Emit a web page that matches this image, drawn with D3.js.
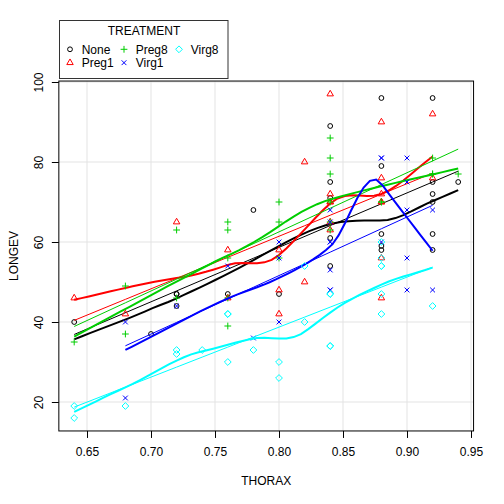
<!DOCTYPE html>
<html>
<head>
<meta charset="utf-8">
<script src="https://cdn.jsdelivr.net/npm/d3@7"></script>
<style>
html,body{margin:0;padding:0;background:#fff;}
svg text{font-family:"Liberation Sans",Arial,Helvetica,sans-serif;font-size:12px;fill:#000;}
</style>
</head>
<body>
<svg id="chart" width="504" height="504"></svg>
<script>
// ---- data ----
const groups = ["None", "Preg1", "Preg8", "Virg1", "Virg8"];
const colors = ["#000000", "#FF0000", "#00CD00", "#0000FF", "#00FFFF"];
const shapes = ["circle", "triangle", "plus", "cross", "diamond"];

const noneThorax  = [0.64,0.70,0.72,0.72,0.72,0.76,0.78,0.80,0.84,0.84,0.84,0.84,0.84,0.88,0.88,0.88,0.88,0.88,0.92,0.92,0.92,0.92,0.92,0.92,0.94];
const noneLongev  = [40,37,44,47,47,47,68,47,54,61,71,75,89,58,59,62,79,96,58,62,70,72,75,96,75];

const preg1Thorax = [0.64,0.68,0.72,0.76,0.76,0.80,0.80,0.80,0.82,0.82,0.84,0.84,0.84,0.84,0.84,0.84,0.88,0.88,0.88,0.88,0.88,0.88,0.88,0.92,0.92];
const preg1Longev = [46,42,65,46,58,42,48,58,50,80,63,65,70,70,72,97,46,56,70,70,72,76,90,76,92];

const preg8Thorax = [0.64,0.68,0.68,0.72,0.72,0.76,0.76,0.76,0.76,0.76,0.80,0.80,0.80,0.84,0.84,0.84,0.84,0.84,0.84,0.88,0.88,0.92,0.92,0.92,0.94];
const preg8Longev = [35,37,49,46,63,39,46,56,63,65,56,65,70,63,65,70,77,81,86,70,70,77,77,81,77];

const virg1Thorax = [0.68,0.68,0.72,0.76,0.78,0.80,0.80,0.80,0.84,0.84,0.84,0.84,0.84,0.84,0.84,0.88,0.88,0.88,0.90,0.90,0.90,0.90,0.90,0.92,0.92];
const virg1Longev = [21,40,44,54,36,40,56,60,48,48,53,60,60,65,68,60,81,81,48,56,68,75,81,48,68];

const virg8Thorax = [0.64,0.64,0.68,0.72,0.72,0.74,0.76,0.76,0.76,0.78,0.80,0.80,0.82,0.82,0.84,0.84,0.84,0.84,0.88,0.88,0.88,0.88,0.88,0.88,0.92];
const virg8Longev = [16,19,19,32,33,33,30,42,42,33,26,30,40,54,34,34,47,47,42,47,54,54,56,60,44];

const xTicks = [0.65, 0.70, 0.75, 0.80, 0.85, 0.90, 0.95];
const yTicks = [20, 40, 60, 80, 100];
const xLabel = "THORAX";
const yLabel = "LONGEV";
const legendTitle = "TREATMENT";

const thoraxByGroup = [noneThorax, preg1Thorax, preg8Thorax, virg1Thorax, virg8Thorax];
const longevByGroup = [noneLongev, preg1Longev, preg8Longev, virg1Longev, virg8Longev];

// ---- scales ----
const allX = thoraxByGroup.flat(), allY = longevByGroup.flat();
const [x0, x1] = d3.extent(allX), [y0, y1] = d3.extent(allY);
const dx = (x1 - x0) * 0.04, dy = (y1 - y0) * 0.04;
const x = d3.scaleLinear().domain([x0 - dx, x1 + dx]).range([58.84, 473.56]);
const y = d3.scaleLinear().domain([y0 - dy, y1 + dy]).range([430.96, 81.04]);

const svg = d3.select("#chart");
svg.append("rect").attr("width", 504).attr("height", 504).attr("fill", "#fff");

const [L, R] = x.range(), [B, T] = y.range();

// grid
const grid = svg.append("g").attr("stroke", "#e3e3e3").attr("stroke-width", 1);
xTicks.forEach(t => grid.append("line").attr("x1", x(t)).attr("x2", x(t)).attr("y1", T).attr("y2", B));
yTicks.forEach(t => grid.append("line").attr("y1", y(t)).attr("y2", y(t)).attr("x1", L).attr("x2", R));

// axes
const xAxis = d3.axisBottom(x).tickValues(xTicks).tickFormat(d3.format(".2f")).tickSizeOuter(0).tickSize(7).tickPadding(5);
const gx = svg.append("g").attr("transform", `translate(0,${B})`).call(xAxis);
gx.select(".domain").remove();
gx.selectAll("text").attr("font-size", 12).attr("font-family", "Liberation Sans, Arial, sans-serif").attr("dy", null).attr("y", 25);

const yAxis = d3.axisLeft(y).tickValues(yTicks).tickSize(7).tickSizeOuter(0);
const gy = svg.append("g").attr("transform", `translate(${L},0)`).call(yAxis);
gy.select(".domain").remove();
gy.selectAll(".tick text").attr("font-size", 12).attr("font-family", "Liberation Sans, Arial, sans-serif")
  .attr("x", null).attr("dy", null).attr("text-anchor", "middle")
  .attr("transform", "translate(-16,0) rotate(-90)");

// box
svg.append("rect").attr("x", L).attr("y", T).attr("width", R - L).attr("height", B - T)
  .attr("fill", "none").attr("stroke", "#000").attr("stroke-width", 1);

// labels
svg.append("text").attr("x", (L + R) / 2).attr("y", 485).attr("text-anchor", "middle").text(xLabel);
svg.append("text").attr("transform", `translate(18,${(T + B) / 2}) rotate(-90)`).attr("text-anchor", "middle").text(yLabel);

// ---- symbols ----
const RAD = 2.4;
function symbol(g, shape, cx, cy, col) {
  if (shape === "circle") {
    g.append("circle").attr("cx", cx).attr("cy", cy).attr("r", RAD).attr("fill", "none").attr("stroke", col);
  } else if (shape === "triangle") {
    const r = 1.555 * RAD, yc = 0.5 * r, xc = 0.866 * r;
    g.append("path").attr("d", `M${cx},${cy - r}L${cx + xc},${cy + yc}L${cx - xc},${cy + yc}Z`).attr("fill", "none").attr("stroke", col);
  } else if (shape === "plus") {
    const s = Math.SQRT2 * RAD;
    g.append("path").attr("d", `M${cx - s},${cy}H${cx + s}M${cx},${cy - s}V${cy + s}`).attr("stroke", col).attr("fill", "none");
  } else if (shape === "cross") {
    const s = RAD;
    g.append("path").attr("d", `M${cx - s},${cy - s}L${cx + s},${cy + s}M${cx - s},${cy + s}L${cx + s},${cy - s}`).attr("stroke", col).attr("fill", "none");
  } else if (shape === "diamond") {
    const s = Math.SQRT2 * RAD;
    g.append("path").attr("d", `M${cx},${cy - s}L${cx + s},${cy}L${cx},${cy + s}L${cx - s},${cy}Z`).attr("stroke", col).attr("fill", "none");
  }
}

// ---- statistics ----
function linReg(xs, ys) {
  const mx = d3.mean(xs), my = d3.mean(ys);
  let sxy = 0, sxx = 0;
  xs.forEach((v, i) => { sxy += (v - mx) * (ys[i] - my); sxx += (v - mx) * (v - mx); });
  const b = sxy / sxx;
  return v => my + b * (v - mx);
}

// loess (degree 1, symmetric family) with k-d tree vertices + cubic Hermite interpolation
function loess(xs, ys, span, iterations, evalXs, cell = 0.2) {
  const n = xs.length, q = Math.floor(n * span);
  // k-d tree vertices (1-D)
  const S = xs.slice().sort((a, b) => a - b);
  const X = i => S[i - 1];
  const mn = S[0], mxv = S[n - 1];
  const mu = 0.005 * Math.max(mxv - mn, 1e-10 * Math.max(Math.abs(mn), Math.abs(mxv)) + 1e-30);
  const vlo = mn - mu, vhi = mxv + mu;
  const fd = cell * (vhi - vlo);
  const fc = Math.floor(n * span * cell);
  const verts = new Set([vlo, vhi]);
  (function split(l, u, a, b) {
    if (u - l + 1 <= fc || (b - a) <= fd) return;
    let m = Math.floor((l + u) / 2), off = 0;
    while (m + off < u && m + off >= l) {
      if (X(m + off) === X(m + off + 1)) { off = -off; if (off >= 0) off++; }
      else { m = m + off; break; }
    }
    const xi = X(m);
    if (xi === a || xi === b) return;
    verts.add(xi);
    split(l, m, a, xi);
    split(m + 1, u, xi, b);
  })(1, n, vlo, vhi);
  const V = Array.from(verts).sort((a, b) => a - b);

  const localFit = (x0, rw) => {
    const d = xs.map(v => Math.abs(v - x0));
    const h = d.slice().sort((a, b) => a - b)[q - 1];
    let sw = 0, swx = 0, swy = 0, swxx = 0, swxy = 0;
    for (let i = 0; i < n; i++) {
      const u = d[i] / h;
      let w = u < 1 ? Math.pow(1 - u * u * u, 3) : 0;
      w *= rw[i];
      sw += w; swx += w * xs[i]; swy += w * ys[i]; swxx += w * xs[i] * xs[i]; swxy += w * xs[i] * ys[i];
    }
    const mx = swx / sw, my = swy / sw;
    const vxx = swxx - sw * mx * mx;
    if (Math.abs(vxx) < 1e-12) return [my, 0];
    const b = (swxy - sw * mx * my) / vxx;
    return [my + b * (x0 - mx), b];
  };
  const surface = rw => {
    const vf = V.map(v => localFit(v, rw));
    return xv => {
      let j = 0;
      while (j < V.length - 2 && xv > V[j + 1]) j++;
      const h = V[j + 1] - V[j], u = (xv - V[j]) / h;
      const p0 = (1 - u) * (1 - u) * (1 + 2 * u), p1 = u * u * (3 - 2 * u);
      const s0 = u * (1 - u) * (1 - u), s1 = -u * u * (1 - u);
      return p0 * vf[j][0] + p1 * vf[j + 1][0] + (s0 * vf[j][1] + s1 * vf[j + 1][1]) * h;
    };
  };
  let rob = new Array(n).fill(1);
  for (let it = 0; it < iterations - 1; it++) {
    const f = surface(rob);
    const res = ys.map((v, i) => v - f(xs[i]));
    const cmad = 6 * d3.median(res.map(Math.abs));
    rob = res.map(r => {
      const a = Math.abs(r);
      if (a <= 0.001 * cmad) return 1;
      if (a > 0.999 * cmad) return 0;
      const u = r / cmad;
      return (1 - u * u) * (1 - u * u);
    });
  }
  const f = surface(rob);
  return evalXs.map(f);
}

const line = d3.line().x(d => x(d[0])).y(d => y(d[1]));

groups.forEach((gName, gi) => {
  const xs = thoraxByGroup[gi], ys = longevByGroup[gi], col = colors[gi];
  const g = svg.append("g").attr("class", "grp-" + gName);
  xs.forEach((v, i) => symbol(g, shapes[gi], x(v), y(ys[i]), col));
  // regression line
  const f = linReg(xs, ys);
  const [mn, mxv] = d3.extent(xs);
  const sx = xs.slice().sort((a, b) => a - b);
  g.append("path").attr("d", line(sx.map(v => [v, f(v)]))).attr("fill", "none").attr("stroke", col).attr("stroke-width", 1);
  // loess smooth
  const ev = d3.range(50).map(i => mn + (mxv - mn) * i / 49);
  const sm = loess(xs, ys, 2 / 3, 4, ev);
  g.append("path").attr("d", line(ev.map((v, i) => [v, sm[i]]))).attr("fill", "none").attr("stroke", col).attr("stroke-width", 2);
});

// ---- legend ----
const lg = svg.append("g");
lg.append("rect").attr("x", 59.5).attr("y", 20.5).attr("width", 168.5).attr("height", 58).attr("fill", "#fff").attr("stroke", "#333");
lg.append("text").attr("x", 144).attr("y", 35).attr("text-anchor", "middle").text(legendTitle);
const legPos = [[70, 49.3], [70, 62.7], [124, 49.3], [124, 62.7], [179, 49.3]];
groups.forEach((gName, gi) => {
  const [sx, sy] = legPos[gi];
  symbol(lg, shapes[gi], sx, sy, colors[gi]);
  lg.append("text").attr("x", sx + 11.7).attr("y", sy + 4.6).text(gName);
});
</script>
</body>
</html>
